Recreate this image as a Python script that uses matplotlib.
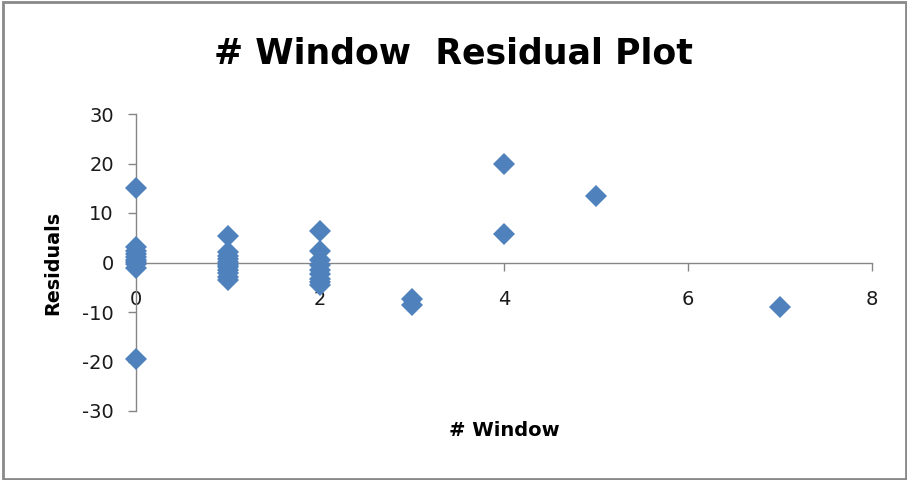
import matplotlib.pyplot as plt
import matplotlib.patches as patches

# 残差データ (# Window ごと)
window = [0, 0, 0, 0, 0, 0, 0, 0, 0, 0,
          1, 1, 1, 1, 1, 1, 1, 1, 1, 1, 1,
          2, 2, 2, 2, 2, 2, 2, 2, 2,
          3, 3,
          4, 4,
          5,
          7]
residuals = [15.0, -19.5, 3.1, 2.4, 1.8, 1.2, 0.6, 0.1, -0.4, -1.2,
             5.3, 2.2, 1.4, 0.7, 0.1, -0.5, -1.0, -1.6, -2.2, -2.9, -3.6,
             6.3, 2.4, 0.5, -0.6, -1.5, -2.4, -3.3, -4.0, -4.6,
             -7.4, -8.6,
             20.0, 5.8,
             13.4,
             -9.0]

x_ticks = [0, 2, 4, 6, 8]
y_ticks = [-30, -20, -10, 0, 10, 20, 30]

plt.rcParams['font.family'] = ['DejaVu Sans']
plt.rcParams['axes.unicode_minus'] = False
axis_color = "#868686"
marker_color = "#4F81BD"

fig = plt.figure(figsize=(9.07, 4.8), dpi=100)
ax = fig.add_axes([136/907, 1-411/480, 736/907, 297/480])

ax.plot(window, residuals, linestyle='none', marker='D', markersize=11.4,
        color=marker_color, markeredgewidth=0, clip_on=False, zorder=3)

# 軸範囲
ax.set_xlim(0, 8)
ax.set_ylim(-30, 30)
ax.set_xticks(x_ticks)
ax.set_yticks(y_ticks)

# 軸のスタイル (x軸は y=0 で交差)
ax.spines['top'].set_visible(False)
ax.spines['right'].set_visible(False)
ax.spines['bottom'].set_position(('data', 0))
for s in ['left', 'bottom']:
    ax.spines[s].set_color(axis_color)
    ax.spines[s].set_linewidth(1.0)
ax.tick_params(axis='both', direction='out', color=axis_color, length=6,
               width=1.0, labelsize=14, labelcolor='#1a1a1a')
ax.tick_params(axis='y', pad=10)
ax.tick_params(axis='x', pad=14)

# 軸ラベル
ax.set_xlabel("# Window", fontsize=14, fontweight='bold')
ax.xaxis.set_label_coords(0.5, -0.035)
ax.set_ylabel("Residuals", fontsize=13.8, fontweight='bold')
ax.yaxis.set_label_coords(-0.1005, 0.5)

# タイトル
fig.text(0.5, 1-54/480, "# Window  Residual Plot", fontsize=25,
         fontweight='bold', ha='center', va='center')

# 外枠
fig.patches.append(patches.Rectangle((3/907, 1/480), 902.5/907, 477/480,
                                     transform=fig.transFigure, fill=False,
                                     edgecolor='#898989', linewidth=2.0))

plt.savefig("out.png", dpi=100)
